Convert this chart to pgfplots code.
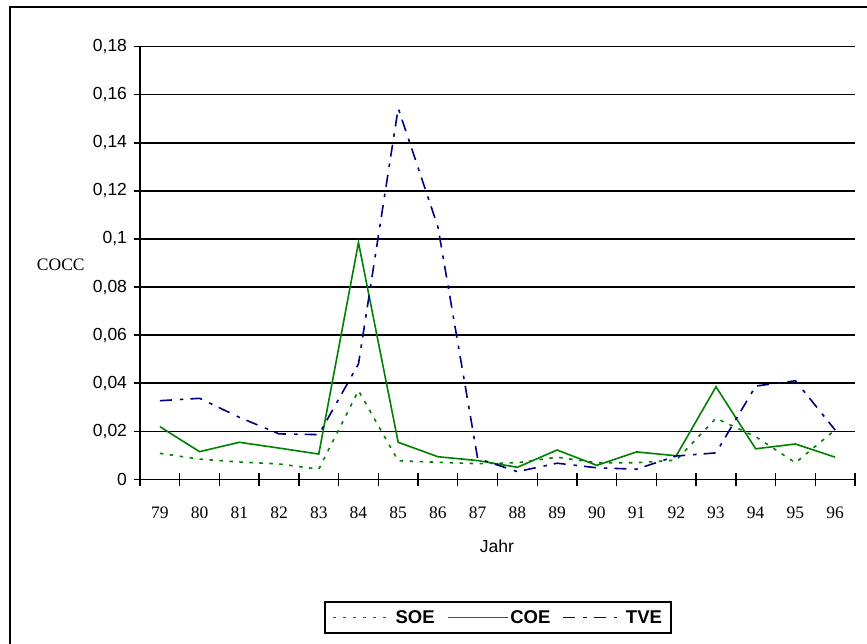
\documentclass[border=0pt]{standalone}
\usepackage{fontspec}
\setmainfont{Liberation Serif}
\setsansfont{Liberation Sans}
\usepackage{pgfplots}
\pgfplotsset{compat=1.18}

\definecolor{soegreen}{RGB}{0,128,0}
\definecolor{tvenavy}{RGB}{0,0,128}
\newcommand\chartfont{\fontsize{17.5bp}{21bp}\selectfont}
\newcommand\legendfont{\fontsize{18.5bp}{22bp}\selectfont}

\tikzset{
  soestyle/.style={draw=soegreen, line width=1.6bp, dash pattern=on 3.5bp off 6.5bp},
  coestyle/.style={draw=soegreen, line width=1.6bp, solid},
  tvestyle/.style={draw=tvenavy, line width=1.6bp, dash pattern=on 12bp off 8bp on 3.5bp off 7bp},
}

\begin{document}
\begin{tikzpicture}[x=1bp,y=1bp]
\useasboundingbox (0,0) rectangle (867,-644);
% outer frame
\draw[line width=2bp] (10,-644) -- (10,-7) -- (868,-7);
\begin{axis}[
  at={(140bp,-479.3bp)}, anchor=south west,
  width=715bp, height=432.6bp, scale only axis,
  xmin=-0.5, xmax=17.5, ymin=0, ymax=0.18,
  axis lines=left, axis line style={-, line width=1.4bp},
  xtick={-0.5,0.5,...,17.5}, xticklabels={},
  ytick={0,0.02,0.04,0.06,0.08,0.1,0.12,0.14,0.16,0.18},
  yticklabels={0,{0,02},{0,04},{0,06},{0,08},{0,1},{0,12},{0,14},{0,16},{0,18}},
  scaled y ticks=false,
  yticklabel style={font=\sffamily\chartfont, xshift=-3bp},
  tick align=center, major tick length=13bp,
  tick style={black, line width=1.4bp},
  ymajorgrids, grid style={black, line width=1.4bp},
  extra x ticks={0,1,...,17},
  extra x tick labels={79,80,81,82,83,84,85,86,87,88,89,90,91,92,93,94,95,96},
  extra x tick style={major tick length=0pt, grid=none,
    xticklabel style={font=\rmfamily\chartfont, yshift=-24bp}},
  legend columns=3,
  legend style={name=keybox, at={(0.5007,-0.3195)}, anchor=center, draw=none,
    font=\sffamily\bfseries\legendfont,
    inner xsep=7bp, inner ysep=6bp,
    /tikz/every even column/.append style={column sep=10bp}},
  clip=false,
]
\addplot[soestyle,
  legend image code/.code={\draw[soestyle] (0bp,0bp) -- (60bp,0bp);}]
  coordinates {
  (0,0.0108) (1,0.0084) (2,0.0072) (3,0.0064) (4,0.0042) (5,0.0369)
  (6,0.0077) (7,0.0071) (8,0.0065) (9,0.0069) (10,0.0092) (11,0.0069)
  (12,0.0069) (13,0.0080) (14,0.0254) (15,0.0177) (16,0.0069) (17,0.0205)};
\addlegendentry{SOE}
\addplot[coestyle,
  legend image code/.code={\draw[coestyle] (0bp,0bp) -- (60bp,0bp);}]
  coordinates {
  (0,0.0219) (1,0.0115) (2,0.0154) (3,0.0130) (4,0.0105) (5,0.0985)
  (6,0.0154) (7,0.0094) (8,0.0078) (9,0.0050) (10,0.0122) (11,0.0058)
  (12,0.0114) (13,0.0098) (14,0.0385) (15,0.0127) (16,0.0147) (17,0.0092)};
\addlegendentry{COE}
\addplot[tvestyle,
  legend image code/.code={\draw[tvestyle] (0bp,0bp) -- (60bp,0bp);}]
  coordinates {
  (0,0.0327) (1,0.0337) (2,0.0258) (3,0.0189) (4,0.0186) (5,0.0480)
  (6,0.1544) (7,0.1050) (8,0.0087) (9,0.0032) (10,0.0067) (11,0.0048)
  (12,0.0042) (13,0.0097) (14,0.0110) (15,0.0388) (16,0.0410) (17,0.0205)};
\addlegendentry{TVE}
\end{axis}
% legend border
\draw[line width=1.4bp] (keybox.south west) rectangle (keybox.north east);
\node[font=\rmfamily\chartfont] at (60.8,-264.5) {COCC};
\node[font=\sffamily\chartfont] at (497,-546.5) {Jahr};
\end{tikzpicture}
\end{document}
